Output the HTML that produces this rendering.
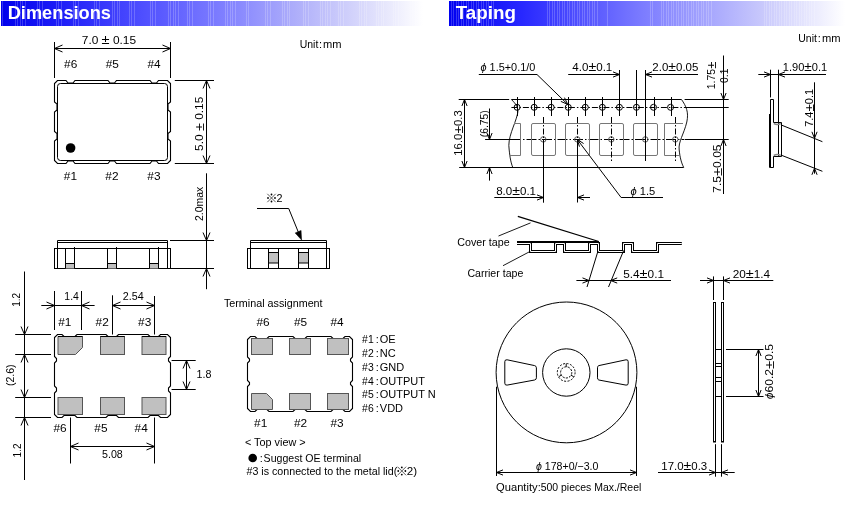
<!DOCTYPE html>
<html><head><meta charset="utf-8"><style>
html,body{margin:0;padding:0;background:#fff;width:851px;height:506px;overflow:hidden}
svg{display:block;will-change:transform}
text{font-family:"Liberation Sans",sans-serif}
</style></head><body>
<svg width="851" height="506" viewBox="0 0 851 506">
<rect width="851" height="506" fill="#fff"/>
<defs><linearGradient id="g1" gradientUnits="userSpaceOnUse" x1="1" y1="0" x2="423" y2="0"><stop offset="0" stop-color="#0000ec"/><stop offset="0.15" stop-color="#2020f8"/><stop offset="0.34" stop-color="#5050ff"/><stop offset="0.53" stop-color="#8080ff"/><stop offset="0.72" stop-color="#b4b4fa"/><stop offset="0.9" stop-color="#e4e4fc"/><stop offset="1" stop-color="#ffffff"/></linearGradient></defs>
<rect x="1" y="1" width="422" height="25" fill="url(#g1)"/>
<rect x="2" y="1" width="1" height="25" fill="#fff" fill-opacity="0.2"/>
<rect x="15" y="1" width="1" height="25" fill="#fff" fill-opacity="0.2"/>
<rect x="17" y="1" width="1" height="25" fill="#fff" fill-opacity="0.2"/>
<rect x="20" y="1" width="1" height="25" fill="#fff" fill-opacity="0.2"/>
<rect x="22" y="1" width="1" height="25" fill="#fff" fill-opacity="0.2"/>
<rect x="25" y="1" width="1" height="25" fill="#fff" fill-opacity="0.2"/>
<rect x="37" y="1" width="1" height="25" fill="#fff" fill-opacity="0.2"/>
<rect x="39" y="1" width="1" height="25" fill="#fff" fill-opacity="0.2"/>
<rect x="42" y="1" width="1" height="25" fill="#fff" fill-opacity="0.2"/>
<rect x="56" y="1" width="1" height="25" fill="#fff" fill-opacity="0.2"/>
<rect x="58" y="1" width="1" height="25" fill="#fff" fill-opacity="0.2"/>
<rect x="61" y="1" width="1" height="25" fill="#fff" fill-opacity="0.2"/>
<rect x="73" y="1" width="1" height="25" fill="#fff" fill-opacity="0.2"/>
<rect x="75" y="1" width="1" height="25" fill="#fff" fill-opacity="0.2"/>
<rect x="78" y="1" width="1" height="25" fill="#fff" fill-opacity="0.2"/>
<rect x="94" y="1" width="1" height="25" fill="#fff" fill-opacity="0.2"/>
<rect x="96" y="1" width="1" height="25" fill="#fff" fill-opacity="0.2"/>
<rect x="99" y="1" width="1" height="25" fill="#fff" fill-opacity="0.2"/>
<rect x="112" y="1" width="1" height="25" fill="#fff" fill-opacity="0.2"/>
<rect x="114" y="1" width="1" height="25" fill="#fff" fill-opacity="0.2"/>
<rect x="117" y="1" width="1" height="25" fill="#fff" fill-opacity="0.2"/>
<rect x="119" y="1" width="1" height="25" fill="#fff" fill-opacity="0.2"/>
<rect x="129" y="1" width="1" height="25" fill="#fff" fill-opacity="0.2"/>
<rect x="131" y="1" width="1" height="25" fill="#fff" fill-opacity="0.2"/>
<rect x="134" y="1" width="1" height="25" fill="#fff" fill-opacity="0.2"/>
<rect x="150" y="1" width="1" height="25" fill="#fff" fill-opacity="0.2"/>
<rect x="152" y="1" width="1" height="25" fill="#fff" fill-opacity="0.2"/>
<rect x="155" y="1" width="1" height="25" fill="#fff" fill-opacity="0.2"/>
<rect x="168" y="1" width="1" height="25" fill="#fff" fill-opacity="0.2"/>
<rect x="170" y="1" width="1" height="25" fill="#fff" fill-opacity="0.2"/>
<rect x="173" y="1" width="1" height="25" fill="#fff" fill-opacity="0.2"/>
<rect x="175" y="1" width="1" height="25" fill="#fff" fill-opacity="0.2"/>
<rect x="178" y="1" width="1" height="25" fill="#fff" fill-opacity="0.2"/>
<rect x="187" y="1" width="1" height="25" fill="#fff" fill-opacity="0.2"/>
<rect x="189" y="1" width="1" height="25" fill="#fff" fill-opacity="0.2"/>
<rect x="192" y="1" width="1" height="25" fill="#fff" fill-opacity="0.2"/>
<rect x="208" y="1" width="1" height="25" fill="#fff" fill-opacity="0.2"/>
<rect x="210" y="1" width="1" height="25" fill="#fff" fill-opacity="0.2"/>
<rect x="213" y="1" width="1" height="25" fill="#fff" fill-opacity="0.2"/>
<rect x="225" y="1" width="1" height="25" fill="#fff" fill-opacity="0.2"/>
<rect x="227" y="1" width="1" height="25" fill="#fff" fill-opacity="0.2"/>
<rect x="230" y="1" width="1" height="25" fill="#fff" fill-opacity="0.2"/>
<rect x="232" y="1" width="1" height="25" fill="#fff" fill-opacity="0.2"/>
<rect x="235" y="1" width="1" height="25" fill="#fff" fill-opacity="0.2"/>
<rect x="246" y="1" width="1" height="25" fill="#fff" fill-opacity="0.2"/>
<rect x="248" y="1" width="1" height="25" fill="#fff" fill-opacity="0.2"/>
<rect x="265" y="1" width="1" height="25" fill="#fff" fill-opacity="0.2"/>
<rect x="267" y="1" width="1" height="25" fill="#fff" fill-opacity="0.2"/>
<rect x="270" y="1" width="1" height="25" fill="#fff" fill-opacity="0.2"/>
<rect x="282" y="1" width="1" height="25" fill="#fff" fill-opacity="0.2"/>
<rect x="284" y="1" width="1" height="25" fill="#fff" fill-opacity="0.2"/>
<rect x="287" y="1" width="1" height="25" fill="#fff" fill-opacity="0.2"/>
<rect x="289" y="1" width="1" height="25" fill="#fff" fill-opacity="0.2"/>
<rect x="303" y="1" width="1" height="25" fill="#fff" fill-opacity="0.2"/>
<rect x="305" y="1" width="1" height="25" fill="#fff" fill-opacity="0.2"/>
<rect x="308" y="1" width="1" height="25" fill="#fff" fill-opacity="0.2"/>
<rect x="320" y="1" width="1" height="25" fill="#fff" fill-opacity="0.2"/>
<rect x="322" y="1" width="1" height="25" fill="#fff" fill-opacity="0.2"/>
<rect x="325" y="1" width="1" height="25" fill="#fff" fill-opacity="0.2"/>
<rect x="327" y="1" width="1" height="25" fill="#fff" fill-opacity="0.2"/>
<rect x="330" y="1" width="1" height="25" fill="#fff" fill-opacity="0.2"/>
<rect x="338" y="1" width="1" height="25" fill="#fff" fill-opacity="0.2"/>
<rect x="340" y="1" width="1" height="25" fill="#fff" fill-opacity="0.2"/>
<rect x="343" y="1" width="1" height="25" fill="#fff" fill-opacity="0.2"/>
<rect x="359" y="1" width="1" height="25" fill="#fff" fill-opacity="0.2"/>
<rect x="361" y="1" width="1" height="25" fill="#fff" fill-opacity="0.2"/>
<rect x="364" y="1" width="1" height="25" fill="#fff" fill-opacity="0.2"/>
<rect x="366" y="1" width="1" height="25" fill="#fff" fill-opacity="0.2"/>
<rect x="376" y="1" width="1" height="25" fill="#fff" fill-opacity="0.2"/>
<rect x="378" y="1" width="1" height="25" fill="#fff" fill-opacity="0.2"/>
<rect x="381" y="1" width="1" height="25" fill="#fff" fill-opacity="0.2"/>
<rect x="383" y="1" width="1" height="25" fill="#fff" fill-opacity="0.2"/>
<rect x="393" y="1" width="1" height="25" fill="#fff" fill-opacity="0.2"/>
<rect x="395" y="1" width="1" height="25" fill="#fff" fill-opacity="0.2"/>
<rect x="398" y="1" width="1" height="25" fill="#fff" fill-opacity="0.2"/>
<rect x="410" y="1" width="1" height="25" fill="#fff" fill-opacity="0.2"/>
<rect x="412" y="1" width="1" height="25" fill="#fff" fill-opacity="0.2"/>
<rect x="415" y="1" width="1" height="25" fill="#fff" fill-opacity="0.2"/>
<defs><linearGradient id="g449" gradientUnits="userSpaceOnUse" x1="449" y1="0" x2="845" y2="0"><stop offset="0" stop-color="#0000f0"/><stop offset="0.185" stop-color="#2828ff"/><stop offset="0.49" stop-color="#7c7cff"/><stop offset="0.79" stop-color="#c8c8fc"/><stop offset="1" stop-color="#ffffff"/></linearGradient></defs>
<rect x="449" y="1" width="396" height="25" fill="url(#g449)"/>
<rect x="451" y="1" width="1" height="25" fill="#fff" fill-opacity="0.2"/>
<rect x="453" y="1" width="1" height="25" fill="#fff" fill-opacity="0.2"/>
<rect x="456" y="1" width="1" height="25" fill="#fff" fill-opacity="0.2"/>
<rect x="458" y="1" width="1" height="25" fill="#fff" fill-opacity="0.2"/>
<rect x="461" y="1" width="1" height="25" fill="#fff" fill-opacity="0.2"/>
<rect x="463" y="1" width="1" height="25" fill="#fff" fill-opacity="0.2"/>
<rect x="466" y="1" width="1" height="25" fill="#fff" fill-opacity="0.2"/>
<rect x="468" y="1" width="1" height="25" fill="#fff" fill-opacity="0.2"/>
<rect x="471" y="1" width="1" height="25" fill="#fff" fill-opacity="0.2"/>
<rect x="473" y="1" width="1" height="25" fill="#fff" fill-opacity="0.2"/>
<rect x="476" y="1" width="1" height="25" fill="#fff" fill-opacity="0.2"/>
<rect x="478" y="1" width="1" height="25" fill="#fff" fill-opacity="0.2"/>
<rect x="481" y="1" width="1" height="25" fill="#fff" fill-opacity="0.2"/>
<rect x="483" y="1" width="1" height="25" fill="#fff" fill-opacity="0.2"/>
<rect x="486" y="1" width="1" height="25" fill="#fff" fill-opacity="0.2"/>
<rect x="488" y="1" width="1" height="25" fill="#fff" fill-opacity="0.2"/>
<rect x="491" y="1" width="1" height="25" fill="#fff" fill-opacity="0.2"/>
<rect x="493" y="1" width="1" height="25" fill="#fff" fill-opacity="0.2"/>
<rect x="547" y="1" width="1" height="25" fill="#fff" fill-opacity="0.2"/>
<rect x="549" y="1" width="1" height="25" fill="#fff" fill-opacity="0.2"/>
<rect x="552" y="1" width="1" height="25" fill="#fff" fill-opacity="0.2"/>
<rect x="554" y="1" width="1" height="25" fill="#fff" fill-opacity="0.2"/>
<rect x="557" y="1" width="1" height="25" fill="#fff" fill-opacity="0.2"/>
<rect x="559" y="1" width="1" height="25" fill="#fff" fill-opacity="0.2"/>
<rect x="562" y="1" width="1" height="25" fill="#fff" fill-opacity="0.2"/>
<rect x="564" y="1" width="1" height="25" fill="#fff" fill-opacity="0.2"/>
<rect x="567" y="1" width="1" height="25" fill="#fff" fill-opacity="0.2"/>
<rect x="569" y="1" width="1" height="25" fill="#fff" fill-opacity="0.2"/>
<rect x="572" y="1" width="1" height="25" fill="#fff" fill-opacity="0.2"/>
<rect x="574" y="1" width="1" height="25" fill="#fff" fill-opacity="0.2"/>
<rect x="577" y="1" width="1" height="25" fill="#fff" fill-opacity="0.2"/>
<rect x="579" y="1" width="1" height="25" fill="#fff" fill-opacity="0.2"/>
<rect x="582" y="1" width="1" height="25" fill="#fff" fill-opacity="0.2"/>
<rect x="584" y="1" width="1" height="25" fill="#fff" fill-opacity="0.2"/>
<rect x="587" y="1" width="1" height="25" fill="#fff" fill-opacity="0.2"/>
<rect x="589" y="1" width="1" height="25" fill="#fff" fill-opacity="0.2"/>
<rect x="592" y="1" width="1" height="25" fill="#fff" fill-opacity="0.2"/>
<rect x="594" y="1" width="1" height="25" fill="#fff" fill-opacity="0.2"/>
<rect x="597" y="1" width="1" height="25" fill="#fff" fill-opacity="0.2"/>
<rect x="607" y="1" width="1" height="25" fill="#fff" fill-opacity="0.2"/>
<rect x="650" y="1" width="1" height="25" fill="#fff" fill-opacity="0.2"/>
<rect x="652" y="1" width="1" height="25" fill="#fff" fill-opacity="0.2"/>
<rect x="661" y="1" width="1" height="25" fill="#fff" fill-opacity="0.2"/>
<rect x="663" y="1" width="1" height="25" fill="#fff" fill-opacity="0.2"/>
<rect x="666" y="1" width="1" height="25" fill="#fff" fill-opacity="0.2"/>
<rect x="668" y="1" width="1" height="25" fill="#fff" fill-opacity="0.2"/>
<rect x="671" y="1" width="1" height="25" fill="#fff" fill-opacity="0.2"/>
<rect x="673" y="1" width="1" height="25" fill="#fff" fill-opacity="0.2"/>
<rect x="676" y="1" width="1" height="25" fill="#fff" fill-opacity="0.2"/>
<rect x="678" y="1" width="1" height="25" fill="#fff" fill-opacity="0.2"/>
<rect x="681" y="1" width="1" height="25" fill="#fff" fill-opacity="0.2"/>
<rect x="683" y="1" width="1" height="25" fill="#fff" fill-opacity="0.2"/>
<rect x="686" y="1" width="1" height="25" fill="#fff" fill-opacity="0.2"/>
<rect x="688" y="1" width="1" height="25" fill="#fff" fill-opacity="0.2"/>
<rect x="691" y="1" width="1" height="25" fill="#fff" fill-opacity="0.2"/>
<rect x="693" y="1" width="1" height="25" fill="#fff" fill-opacity="0.2"/>
<rect x="696" y="1" width="1" height="25" fill="#fff" fill-opacity="0.2"/>
<rect x="698" y="1" width="1" height="25" fill="#fff" fill-opacity="0.2"/>
<rect x="701" y="1" width="1" height="25" fill="#fff" fill-opacity="0.2"/>
<rect x="703" y="1" width="1" height="25" fill="#fff" fill-opacity="0.2"/>
<rect x="706" y="1" width="1" height="25" fill="#fff" fill-opacity="0.2"/>
<rect x="708" y="1" width="1" height="25" fill="#fff" fill-opacity="0.2"/>
<rect x="711" y="1" width="1" height="25" fill="#fff" fill-opacity="0.2"/>
<rect x="764" y="1" width="1" height="25" fill="#fff" fill-opacity="0.2"/>
<rect x="766" y="1" width="1" height="25" fill="#fff" fill-opacity="0.2"/>
<rect x="769" y="1" width="1" height="25" fill="#fff" fill-opacity="0.2"/>
<rect x="771" y="1" width="1" height="25" fill="#fff" fill-opacity="0.2"/>
<rect x="774" y="1" width="1" height="25" fill="#fff" fill-opacity="0.2"/>
<rect x="776" y="1" width="1" height="25" fill="#fff" fill-opacity="0.2"/>
<rect x="779" y="1" width="1" height="25" fill="#fff" fill-opacity="0.2"/>
<rect x="781" y="1" width="1" height="25" fill="#fff" fill-opacity="0.2"/>
<rect x="784" y="1" width="1" height="25" fill="#fff" fill-opacity="0.2"/>
<rect x="786" y="1" width="1" height="25" fill="#fff" fill-opacity="0.2"/>
<rect x="789" y="1" width="1" height="25" fill="#fff" fill-opacity="0.2"/>
<rect x="791" y="1" width="1" height="25" fill="#fff" fill-opacity="0.2"/>
<rect x="794" y="1" width="1" height="25" fill="#fff" fill-opacity="0.2"/>
<rect x="796" y="1" width="1" height="25" fill="#fff" fill-opacity="0.2"/>
<rect x="799" y="1" width="1" height="25" fill="#fff" fill-opacity="0.2"/>
<rect x="801" y="1" width="1" height="25" fill="#fff" fill-opacity="0.2"/>
<rect x="804" y="1" width="1" height="25" fill="#fff" fill-opacity="0.2"/>
<rect x="806" y="1" width="1" height="25" fill="#fff" fill-opacity="0.2"/>
<rect x="809" y="1" width="1" height="25" fill="#fff" fill-opacity="0.2"/>
<rect x="811" y="1" width="1" height="25" fill="#fff" fill-opacity="0.2"/>
<rect x="814" y="1" width="1" height="25" fill="#fff" fill-opacity="0.2"/>
<text x="7.7" y="18.6" font-size="18" fill="#fff" textLength="103.3" lengthAdjust="spacingAndGlyphs" font-weight="bold">Dimensions</text>
<text x="455.7" y="18.8" font-size="18" fill="#fff" textLength="60.2" lengthAdjust="spacingAndGlyphs" font-weight="bold">Taping</text>
<text x="299.7" y="47.6" font-size="11" fill="#000" textLength="18.6" lengthAdjust="spacingAndGlyphs">Unit</text>
<text x="319.0" y="47.6" font-size="11" fill="#000">:</text>
<text x="323.1" y="47.6" font-size="11" fill="#000" textLength="18.5" lengthAdjust="spacingAndGlyphs">mm</text>
<text x="798.3" y="41.8" font-size="11" fill="#000" textLength="18.6" lengthAdjust="spacingAndGlyphs">Unit</text>
<text x="817.7" y="41.8" font-size="11" fill="#000">:</text>
<text x="821.9" y="41.8" font-size="11" fill="#000" textLength="18.6" lengthAdjust="spacingAndGlyphs">mm</text>
<line x1="54.5" y1="42" x2="54.5" y2="78" stroke="#000" stroke-width="1"/>
<line x1="170.5" y1="42" x2="170.5" y2="78" stroke="#000" stroke-width="1"/>
<line x1="54.5" y1="48.5" x2="170.5" y2="48.5" stroke="#000" stroke-width="1"/>
<polyline points="62.50,45.00 54.50,48.50 62.50,52.00" stroke="#000" stroke-width="1" fill="none"/>
<polyline points="162.50,52.00 170.50,48.50 162.50,45.00" stroke="#000" stroke-width="1" fill="none"/>
<text x="81.8" y="43.8" font-size="11" fill="#000" textLength="54.3" lengthAdjust="spacingAndGlyphs">7.0 <tspan font-size="13.5">±</tspan> 0.15</text>
<text x="70.7" y="68.4" font-size="11" text-anchor="middle" fill="#000" textLength="13.2" lengthAdjust="spacingAndGlyphs">#6</text>
<text x="112.3" y="68.4" font-size="11" text-anchor="middle" fill="#000" textLength="13.2" lengthAdjust="spacingAndGlyphs">#5</text>
<text x="154" y="68.4" font-size="11" text-anchor="middle" fill="#000" textLength="13.2" lengthAdjust="spacingAndGlyphs">#4</text>
<text x="70.4" y="179.6" font-size="11" text-anchor="middle" fill="#000" textLength="13.2" lengthAdjust="spacingAndGlyphs">#1</text>
<text x="111.9" y="179.6" font-size="11" text-anchor="middle" fill="#000" textLength="13.2" lengthAdjust="spacingAndGlyphs">#2</text>
<text x="153.9" y="179.6" font-size="11" text-anchor="middle" fill="#000" textLength="13.2" lengthAdjust="spacingAndGlyphs">#3</text>
<polygon points="57.50,80.50 66.00,80.50 68.00,83.00 73.00,83.00 75.00,80.50 108.00,80.50 110.00,83.00 114.50,83.00 116.50,80.50 150.00,80.50 152.00,83.00 156.50,83.00 158.50,80.50 167.50,80.50 170.50,83.50 170.50,102.00 168.00,104.00 168.00,110.00 170.50,112.00 170.50,131.50 168.00,133.50 168.00,139.00 170.50,141.00 170.50,160.50 167.50,163.50 158.50,163.50 156.50,161.00 152.00,161.00 150.00,163.50 116.50,163.50 114.50,161.00 110.00,161.00 108.00,163.50 75.00,163.50 73.00,161.00 68.00,161.00 66.00,163.50 57.50,163.50 54.50,160.50 54.50,141.00 57.00,139.00 57.00,133.50 54.50,131.50 54.50,112.00 57.00,110.00 57.00,104.00 54.50,102.00 54.50,83.50" stroke="#000" stroke-width="1.1" fill="none"/>
<rect x="57.5" y="83.5" width="110" height="77" rx="3" fill="none" stroke="#000" stroke-width="1"/>
<circle cx="70.6" cy="148" r="4.8" fill="#000"/>
<line x1="174.8" y1="80.5" x2="214" y2="80.5" stroke="#000" stroke-width="1"/>
<line x1="174.8" y1="163.5" x2="214" y2="163.5" stroke="#000" stroke-width="1"/>
<line x1="206.5" y1="80.5" x2="206.5" y2="163.5" stroke="#000" stroke-width="1"/>
<polyline points="210.00,88.50 206.50,80.50 203.00,88.50" stroke="#000" stroke-width="1" fill="none"/>
<polyline points="203.00,155.50 206.50,163.50 210.00,155.50" stroke="#000" stroke-width="1" fill="none"/>
<text x="198.7" y="123.80000000000001" font-size="11" text-anchor="middle" dominant-baseline="central" transform="rotate(-90 198.7 123.80000000000001)" fill="#000" textLength="54.2" lengthAdjust="spacingAndGlyphs">5.0 <tspan font-size="13.5">±</tspan> 0.15</text>
<line x1="206.5" y1="173.3" x2="206.5" y2="289.2" stroke="#000" stroke-width="1"/>
<polyline points="203.00,232.50 206.50,240.50 210.00,232.50" stroke="#000" stroke-width="1" fill="none"/>
<polyline points="210.00,276.50 206.50,268.50 203.00,276.50" stroke="#000" stroke-width="1" fill="none"/>
<line x1="170" y1="240.5" x2="214" y2="240.5" stroke="#000" stroke-width="1"/>
<line x1="170" y1="268.5" x2="214" y2="268.5" stroke="#000" stroke-width="1"/>
<text x="199.4" y="203.9" font-size="11" text-anchor="middle" dominant-baseline="central" transform="rotate(-90 199.4 203.9)" fill="#000" textLength="34.2" lengthAdjust="spacingAndGlyphs">2.0max</text>
<line x1="57.5" y1="240.5" x2="167.5" y2="240.5" stroke="#000" stroke-width="1"/>
<line x1="57.5" y1="242.5" x2="167.5" y2="242.5" stroke="#000" stroke-width="1"/>
<line x1="57.5" y1="240.5" x2="57.5" y2="268.5" stroke="#000" stroke-width="1"/>
<line x1="167.5" y1="240.5" x2="167.5" y2="268.5" stroke="#000" stroke-width="1"/>
<rect x="54.5" y="248.5" width="116" height="20" fill="none" stroke="#000" stroke-width="1"/>
<rect x="65.5" y="263.5" width="9.0" height="5" fill="#c0c0c0"/>
<line x1="65.5" y1="248.5" x2="65.5" y2="268.5" stroke="#000" stroke-width="1"/>
<line x1="74.5" y1="247" x2="74.5" y2="268.5" stroke="#000" stroke-width="1"/>
<line x1="65.5" y1="263.5" x2="74.5" y2="263.5" stroke="#000" stroke-width="1"/>
<rect x="107.5" y="263.5" width="9.0" height="5" fill="#c0c0c0"/>
<line x1="107.5" y1="248.5" x2="107.5" y2="268.5" stroke="#000" stroke-width="1"/>
<line x1="116.5" y1="247" x2="116.5" y2="268.5" stroke="#000" stroke-width="1"/>
<line x1="107.5" y1="263.5" x2="116.5" y2="263.5" stroke="#000" stroke-width="1"/>
<rect x="149.5" y="263.5" width="9.0" height="5" fill="#c0c0c0"/>
<line x1="149.5" y1="248.5" x2="149.5" y2="268.5" stroke="#000" stroke-width="1"/>
<line x1="158.5" y1="247" x2="158.5" y2="268.5" stroke="#000" stroke-width="1"/>
<line x1="149.5" y1="263.5" x2="158.5" y2="263.5" stroke="#000" stroke-width="1"/>
<line x1="250.5" y1="240.5" x2="326.5" y2="240.5" stroke="#000" stroke-width="1"/>
<line x1="250.5" y1="242.5" x2="326.5" y2="242.5" stroke="#000" stroke-width="1"/>
<line x1="250.5" y1="240.5" x2="250.5" y2="268.5" stroke="#000" stroke-width="1"/>
<line x1="326.5" y1="240.5" x2="326.5" y2="268.5" stroke="#000" stroke-width="1"/>
<rect x="247.5" y="248.5" width="82" height="20" fill="none" stroke="#000" stroke-width="1"/>
<rect x="268.5" y="252.5" width="10.0" height="10.5" fill="#c0c0c0"/>
<line x1="268.5" y1="248.5" x2="268.5" y2="268.5" stroke="#000" stroke-width="1"/>
<line x1="278.5" y1="248.5" x2="278.5" y2="268.5" stroke="#000" stroke-width="1"/>
<line x1="268.5" y1="252.5" x2="278.5" y2="252.5" stroke="#000" stroke-width="1"/>
<line x1="268.5" y1="263" x2="278.5" y2="263" stroke="#000" stroke-width="1"/>
<rect x="298.5" y="252.5" width="10.0" height="10.5" fill="#c0c0c0"/>
<line x1="298.5" y1="248.5" x2="298.5" y2="268.5" stroke="#000" stroke-width="1"/>
<line x1="308.5" y1="248.5" x2="308.5" y2="268.5" stroke="#000" stroke-width="1"/>
<line x1="298.5" y1="252.5" x2="308.5" y2="252.5" stroke="#000" stroke-width="1"/>
<line x1="298.5" y1="263" x2="308.5" y2="263" stroke="#000" stroke-width="1"/>
<polyline points="257.00,208.50 288.70,208.50 299.50,235.00" stroke="#000" stroke-width="1" fill="none"/>
<polygon points="295.16,232.94 301.60,240.00 301.07,230.46" stroke="#000" stroke-width="0.5" fill="#000"/>
<line x1="267.3" y1="193.8" x2="275.7" y2="202.2" stroke="#333" stroke-width="0.8"/>
<line x1="267.3" y1="202.2" x2="275.7" y2="193.8" stroke="#333" stroke-width="0.8"/>
<circle cx="271.50" cy="194.51" r="0.9" fill="#000"/>
<circle cx="271.50" cy="201.49" r="0.9" fill="#000"/>
<circle cx="268.01" cy="198.00" r="0.9" fill="#000"/>
<circle cx="274.99" cy="198.00" r="0.9" fill="#000"/>
<text x="276.5" y="201.8" font-size="11" fill="#000" textLength="6.0" lengthAdjust="spacingAndGlyphs">2</text>
<line x1="24.5" y1="271.5" x2="24.5" y2="480" stroke="#000" stroke-width="1"/>
<line x1="15.2" y1="334.5" x2="51" y2="334.5" stroke="#000" stroke-width="1"/>
<line x1="15.2" y1="354.5" x2="51" y2="354.5" stroke="#000" stroke-width="1"/>
<line x1="15.2" y1="397.5" x2="51" y2="397.5" stroke="#000" stroke-width="1"/>
<line x1="15.2" y1="417.5" x2="51" y2="417.5" stroke="#000" stroke-width="1"/>
<polyline points="21.00,326.50 24.50,334.50 28.00,326.50" stroke="#000" stroke-width="1" fill="none"/>
<polyline points="28.00,362.50 24.50,354.50 21.00,362.50" stroke="#000" stroke-width="1" fill="none"/>
<polyline points="21.00,389.50 24.50,397.50 28.00,389.50" stroke="#000" stroke-width="1" fill="none"/>
<polyline points="28.00,425.50 24.50,417.50 21.00,425.50" stroke="#000" stroke-width="1" fill="none"/>
<text x="15.7" y="299.8" font-size="11" text-anchor="middle" dominant-baseline="central" transform="rotate(-90 15.7 299.8)" fill="#000" textLength="14.0" lengthAdjust="spacingAndGlyphs">1.2</text>
<text x="9.7" y="375.25" font-size="11" text-anchor="middle" dominant-baseline="central" transform="rotate(-90 9.7 375.25)" fill="#000" textLength="21.7" lengthAdjust="spacingAndGlyphs">(2.6)</text>
<text x="16.6" y="450.5" font-size="11" text-anchor="middle" dominant-baseline="central" transform="rotate(-90 16.6 450.5)" fill="#000" textLength="14.0" lengthAdjust="spacingAndGlyphs">1.2</text>
<line x1="41.3" y1="305.5" x2="94.6" y2="305.5" stroke="#000" stroke-width="1"/>
<polyline points="46.50,309.00 54.50,305.50 46.50,302.00" stroke="#000" stroke-width="1" fill="none"/>
<polyline points="89.50,302.00 81.50,305.50 89.50,309.00" stroke="#000" stroke-width="1" fill="none"/>
<line x1="54.5" y1="291" x2="54.5" y2="330" stroke="#000" stroke-width="1"/>
<line x1="81.5" y1="291" x2="81.5" y2="330" stroke="#000" stroke-width="1"/>
<text x="71.6" y="299.8" font-size="11" text-anchor="middle" fill="#000" textLength="14.5" lengthAdjust="spacingAndGlyphs">1.4</text>
<line x1="112.5" y1="305.5" x2="154.5" y2="305.5" stroke="#000" stroke-width="1"/>
<polyline points="120.50,302.00 112.50,305.50 120.50,309.00" stroke="#000" stroke-width="1" fill="none"/>
<polyline points="146.50,309.00 154.50,305.50 146.50,302.00" stroke="#000" stroke-width="1" fill="none"/>
<line x1="112.5" y1="295.3" x2="112.5" y2="334.5" stroke="#000" stroke-width="1"/>
<line x1="154.5" y1="296" x2="154.5" y2="334.5" stroke="#000" stroke-width="1"/>
<text x="133.2" y="299.9" font-size="11" text-anchor="middle" fill="#000" textLength="20.9" lengthAdjust="spacingAndGlyphs">2.54</text>
<text x="64.8" y="325.8" font-size="11" text-anchor="middle" fill="#000" textLength="13.2" lengthAdjust="spacingAndGlyphs">#1</text>
<text x="102.2" y="325.8" font-size="11" text-anchor="middle" fill="#000" textLength="13.2" lengthAdjust="spacingAndGlyphs">#2</text>
<text x="144.7" y="325.8" font-size="11" text-anchor="middle" fill="#000" textLength="13.2" lengthAdjust="spacingAndGlyphs">#3</text>
<text x="60" y="431.7" font-size="11" text-anchor="middle" fill="#000" textLength="13.2" lengthAdjust="spacingAndGlyphs">#6</text>
<text x="100.9" y="431.7" font-size="11" text-anchor="middle" fill="#000" textLength="13.2" lengthAdjust="spacingAndGlyphs">#5</text>
<text x="141.2" y="431.7" font-size="11" text-anchor="middle" fill="#000" textLength="13.2" lengthAdjust="spacingAndGlyphs">#4</text>
<polygon points="57.50,334.50 62.00,334.50 64.00,336.50 75.00,336.50 77.00,334.50 106.00,334.50 108.00,336.50 116.50,336.50 118.50,334.50 148.00,334.50 150.00,336.50 158.50,336.50 160.50,334.50 167.50,334.50 170.50,337.50 170.50,356.50 168.50,358.50 168.50,361.00 170.50,363.00 170.50,386.00 168.50,388.00 168.50,391.00 170.50,393.00 170.50,414.50 167.50,417.50 160.50,417.50 158.50,415.50 150.00,415.50 148.00,417.50 118.50,417.50 116.50,415.50 108.00,415.50 106.00,417.50 77.00,417.50 75.00,415.50 64.00,415.50 62.00,417.50 57.50,417.50 54.50,414.50 54.50,393.00 56.50,391.00 56.50,388.00 54.50,386.00 54.50,363.00 56.50,361.00 56.50,358.50 54.50,356.50 54.50,337.50" stroke="#000" stroke-width="1.1" fill="none"/>
<polygon points="58.00,336.50 82.50,336.50 82.50,347.50 75.50,354.50 58.00,354.50" stroke="#555" stroke-width="1" fill="#c0c0c0"/>
<line x1="58" y1="336.5" x2="82.5" y2="336.5" stroke="#000" stroke-width="1"/>
<rect x="58" y="397.5" width="24.5" height="17" fill="#c0c0c0" stroke="#555" stroke-width="1"/>
<rect x="100.5" y="336.5" width="24.0" height="18" fill="#c0c0c0" stroke="#555" stroke-width="1"/>
<line x1="100.5" y1="336.5" x2="124.5" y2="336.5" stroke="#000" stroke-width="1"/>
<rect x="100.5" y="397.5" width="24.0" height="17" fill="#c0c0c0" stroke="#555" stroke-width="1"/>
<rect x="142" y="336.5" width="24" height="18" fill="#c0c0c0" stroke="#555" stroke-width="1"/>
<line x1="142" y1="336.5" x2="166" y2="336.5" stroke="#000" stroke-width="1"/>
<rect x="142" y="397.5" width="24" height="17" fill="#c0c0c0" stroke="#555" stroke-width="1"/>
<line x1="171.6" y1="360.5" x2="195.7" y2="360.5" stroke="#000" stroke-width="1"/>
<line x1="171.6" y1="389.5" x2="195.7" y2="389.5" stroke="#000" stroke-width="1"/>
<line x1="186.5" y1="360.5" x2="186.5" y2="389.5" stroke="#000" stroke-width="1"/>
<polyline points="190.00,368.50 186.50,360.50 183.00,368.50" stroke="#000" stroke-width="1" fill="none"/>
<polyline points="183.00,381.50 186.50,389.50 190.00,381.50" stroke="#000" stroke-width="1" fill="none"/>
<text x="196.5" y="377.9" font-size="11" fill="#000" textLength="14.9" lengthAdjust="spacingAndGlyphs">1.8</text>
<line x1="70.5" y1="417.5" x2="70.5" y2="463.5" stroke="#000" stroke-width="1"/>
<line x1="154.5" y1="417.5" x2="154.5" y2="463.5" stroke="#000" stroke-width="1"/>
<line x1="70.5" y1="446.5" x2="154.5" y2="446.5" stroke="#000" stroke-width="1"/>
<polyline points="78.50,443.00 70.50,446.50 78.50,450.00" stroke="#000" stroke-width="1" fill="none"/>
<polyline points="146.50,450.00 154.50,446.50 146.50,443.00" stroke="#000" stroke-width="1" fill="none"/>
<text x="112.4" y="457.7" font-size="11" text-anchor="middle" fill="#000" textLength="20.8" lengthAdjust="spacingAndGlyphs">5.08</text>
<text x="223.9" y="306.9" font-size="11" fill="#000" textLength="98.7" lengthAdjust="spacingAndGlyphs">Terminal assignment</text>
<text x="263" y="325.7" font-size="11" text-anchor="middle" fill="#000" textLength="13.2" lengthAdjust="spacingAndGlyphs">#6</text>
<text x="300.6" y="325.7" font-size="11" text-anchor="middle" fill="#000" textLength="13.2" lengthAdjust="spacingAndGlyphs">#5</text>
<text x="337.1" y="325.7" font-size="11" text-anchor="middle" fill="#000" textLength="13.2" lengthAdjust="spacingAndGlyphs">#4</text>
<text x="260.7" y="427.2" font-size="11" text-anchor="middle" fill="#000" textLength="13.2" lengthAdjust="spacingAndGlyphs">#1</text>
<text x="300.6" y="427.2" font-size="11" text-anchor="middle" fill="#000" textLength="13.2" lengthAdjust="spacingAndGlyphs">#2</text>
<text x="337.1" y="427.2" font-size="11" text-anchor="middle" fill="#000" textLength="13.2" lengthAdjust="spacingAndGlyphs">#3</text>
<polygon points="250.50,336.50 255.00,336.50 257.00,338.50 267.00,338.50 269.00,336.50 293.00,336.50 295.00,338.50 305.00,338.50 307.00,336.50 331.00,336.50 333.00,338.50 343.00,338.50 345.00,336.50 349.50,336.50 352.50,339.50 352.50,357.00 350.50,359.00 350.50,361.00 352.50,363.00 352.50,380.50 350.50,382.50 350.50,384.50 352.50,386.50 352.50,408.50 349.50,411.50 345.00,411.50 343.00,409.50 333.00,409.50 331.00,411.50 307.00,411.50 305.00,409.50 295.00,409.50 293.00,411.50 269.00,411.50 267.00,409.50 257.00,409.50 255.00,411.50 250.50,411.50 247.50,408.50 247.50,386.50 249.50,384.50 249.50,382.50 247.50,380.50 247.50,363.00 249.50,361.00 249.50,359.00 247.50,357.00 247.50,339.50" stroke="#000" stroke-width="1.1" fill="none"/>
<rect x="251.5" y="338.5" width="21.0" height="16" fill="#c0c0c0" stroke="#555" stroke-width="1"/>
<polygon points="251.50,393.50 266.50,393.50 272.50,399.50 272.50,409.50 251.50,409.50" stroke="#555" stroke-width="1" fill="#c0c0c0"/>
<rect x="289.5" y="338.5" width="21.0" height="16" fill="#c0c0c0" stroke="#555" stroke-width="1"/>
<rect x="289.5" y="393.5" width="21.0" height="16" fill="#c0c0c0" stroke="#555" stroke-width="1"/>
<rect x="327.5" y="338.5" width="21.0" height="16" fill="#c0c0c0" stroke="#555" stroke-width="1"/>
<rect x="327.5" y="393.5" width="21.0" height="16" fill="#c0c0c0" stroke="#555" stroke-width="1"/>
<text x="362.1" y="342.8" font-size="11" fill="#000" textLength="11.6" lengthAdjust="spacingAndGlyphs">#1</text>
<text x="375.8" y="342.8" font-size="11" fill="#000">:</text>
<text x="379.8" y="342.8" font-size="11" fill="#000">OE</text>
<text x="362.1" y="356.7" font-size="11" fill="#000" textLength="11.6" lengthAdjust="spacingAndGlyphs">#2</text>
<text x="375.8" y="356.7" font-size="11" fill="#000">:</text>
<text x="379.8" y="356.7" font-size="11" fill="#000">NC</text>
<text x="362.1" y="370.6" font-size="11" fill="#000" textLength="11.6" lengthAdjust="spacingAndGlyphs">#3</text>
<text x="375.8" y="370.6" font-size="11" fill="#000">:</text>
<text x="379.8" y="370.6" font-size="11" fill="#000">GND</text>
<text x="362.1" y="384.5" font-size="11" fill="#000" textLength="11.6" lengthAdjust="spacingAndGlyphs">#4</text>
<text x="375.8" y="384.5" font-size="11" fill="#000">:</text>
<text x="379.8" y="384.5" font-size="11" fill="#000">OUTPUT</text>
<text x="362.1" y="398.40000000000003" font-size="11" fill="#000" textLength="11.6" lengthAdjust="spacingAndGlyphs">#5</text>
<text x="375.8" y="398.40000000000003" font-size="11" fill="#000">:</text>
<text x="379.8" y="398.40000000000003" font-size="11" fill="#000">OUTPUT N</text>
<text x="362.1" y="412.3" font-size="11" fill="#000" textLength="11.6" lengthAdjust="spacingAndGlyphs">#6</text>
<text x="375.8" y="412.3" font-size="11" fill="#000">:</text>
<text x="379.8" y="412.3" font-size="11" fill="#000">VDD</text>
<text x="244.9" y="445.7" font-size="11" fill="#000" textLength="60.8" lengthAdjust="spacingAndGlyphs">&lt; Top view &gt;</text>
<circle cx="252.7" cy="458" r="4.3" fill="#000"/>
<text x="259.8" y="461.5" font-size="11" fill="#000">:</text>
<text x="263.6" y="461.5" font-size="11" fill="#000" textLength="97.6" lengthAdjust="spacingAndGlyphs">Suggest OE terminal</text>
<text x="246.5" y="474.6" font-size="11" fill="#000" textLength="150.7" lengthAdjust="spacingAndGlyphs">#3 is connected to the metal lid(</text>
<line x1="397.5" y1="466.7" x2="406.1" y2="475.3" stroke="#333" stroke-width="0.8"/>
<line x1="397.5" y1="475.3" x2="406.1" y2="466.7" stroke="#333" stroke-width="0.8"/>
<circle cx="401.80" cy="467.43" r="0.9" fill="#000"/>
<circle cx="401.80" cy="474.57" r="0.9" fill="#000"/>
<circle cx="398.23" cy="471.00" r="0.9" fill="#000"/>
<circle cx="405.37" cy="471.00" r="0.9" fill="#000"/>
<text x="406.7" y="474.6" font-size="11" fill="#000" textLength="10.3" lengthAdjust="spacingAndGlyphs">2)</text>
<line x1="458.7" y1="99.5" x2="509.2" y2="99.5" stroke="#000" stroke-width="1"/>
<line x1="511.4" y1="99.5" x2="681.5" y2="99.5" stroke="#000" stroke-width="1"/>
<line x1="684.6" y1="99.5" x2="728.7" y2="99.5" stroke="#000" stroke-width="1"/>
<line x1="459.2" y1="167.5" x2="683.7" y2="167.5" stroke="#000" stroke-width="1"/>
<path d="M511.4,99.5 C516,104 519,108 517.5,114 C515,125 507,138 509.2,150 C510,158 511,163 512.8,167.5" stroke="#000" stroke-width="0.9" fill="none"/>
<path d="M681.5,99.5 C686,106 689,112 686.8,122 C684,134 678,142 679.2,150 C680,158 681.5,163 683.7,167.5" stroke="#000" stroke-width="0.9" fill="none"/>
<line x1="511.4" y1="107.5" x2="728.7" y2="107.5" stroke="#000" stroke-width="1" stroke-dasharray="6,2,1.5,2"/>
<line x1="517.5" y1="97" x2="517.5" y2="116" stroke="#000" stroke-width="1"/>
<circle cx="517.10" cy="107.3" r="3" fill="none" stroke="#000" stroke-width="1"/>
<line x1="534.5" y1="97" x2="534.5" y2="116" stroke="#000" stroke-width="1"/>
<circle cx="534.15" cy="107.3" r="3" fill="none" stroke="#000" stroke-width="1"/>
<line x1="551.5" y1="97" x2="551.5" y2="116" stroke="#000" stroke-width="1"/>
<circle cx="551.20" cy="107.3" r="3" fill="none" stroke="#000" stroke-width="1"/>
<line x1="568.5" y1="97" x2="568.5" y2="116" stroke="#000" stroke-width="1"/>
<circle cx="568.25" cy="107.3" r="3" fill="none" stroke="#000" stroke-width="1"/>
<line x1="585.5" y1="97" x2="585.5" y2="116" stroke="#000" stroke-width="1"/>
<circle cx="585.30" cy="107.3" r="3" fill="none" stroke="#000" stroke-width="1"/>
<line x1="602.5" y1="97" x2="602.5" y2="116" stroke="#000" stroke-width="1"/>
<circle cx="602.35" cy="107.3" r="3" fill="none" stroke="#000" stroke-width="1"/>
<line x1="619.5" y1="97" x2="619.5" y2="116" stroke="#000" stroke-width="1"/>
<circle cx="619.40" cy="107.3" r="3" fill="none" stroke="#000" stroke-width="1"/>
<line x1="636.5" y1="97" x2="636.5" y2="116" stroke="#000" stroke-width="1"/>
<circle cx="636.45" cy="107.3" r="3" fill="none" stroke="#000" stroke-width="1"/>
<line x1="654.5" y1="97" x2="654.5" y2="116" stroke="#000" stroke-width="1"/>
<circle cx="653.50" cy="107.3" r="3" fill="none" stroke="#000" stroke-width="1"/>
<line x1="671.5" y1="97" x2="671.5" y2="116" stroke="#000" stroke-width="1"/>
<circle cx="670.55" cy="107.3" r="3" fill="none" stroke="#000" stroke-width="1"/>
<line x1="485.1" y1="139.5" x2="511" y2="139.5" stroke="#000" stroke-width="1"/>
<line x1="511" y1="139.5" x2="684" y2="139.5" stroke="#000" stroke-width="1" stroke-dasharray="10,2,1.5,2"/>
<rect x="531.5" y="123.5" width="24.0" height="32" rx="1.5" fill="none" stroke="#777" stroke-width="1"/>
<rect x="565.5" y="123.5" width="24.0" height="32" rx="1.5" fill="none" stroke="#777" stroke-width="1"/>
<rect x="599.5" y="123.5" width="24.0" height="32" rx="1.5" fill="none" stroke="#777" stroke-width="1"/>
<rect x="633.5" y="123.5" width="24.0" height="32" rx="1.5" fill="none" stroke="#777" stroke-width="1"/>
<path d="M664.5,123.5 L683,123.5 M664.5,123.5 L664.5,155.5 L680,155.5" stroke="#777" stroke-width="1" fill="none"/>
<path d="M520.5,123.5 L514,123.5 M520.5,123.5 L520.5,155.5 L509.5,155.5" stroke="#777" stroke-width="1" fill="none"/>
<circle cx="543.3" cy="139.4" r="2.7" fill="none" stroke="#555" stroke-width="1"/>
<line x1="543.5" y1="117" x2="543.5" y2="161" stroke="#000" stroke-width="1" stroke-dasharray="6,2,1.5,2"/>
<circle cx="577.3" cy="139.4" r="2.7" fill="none" stroke="#555" stroke-width="1"/>
<line x1="577.5" y1="117" x2="577.5" y2="161" stroke="#000" stroke-width="1" stroke-dasharray="6,2,1.5,2"/>
<circle cx="611.3" cy="139.4" r="2.7" fill="none" stroke="#555" stroke-width="1"/>
<line x1="611.5" y1="117" x2="611.5" y2="161" stroke="#000" stroke-width="1" stroke-dasharray="6,2,1.5,2"/>
<circle cx="645.3" cy="139.4" r="2.7" fill="none" stroke="#555" stroke-width="1"/>
<line x1="645.5" y1="117" x2="645.5" y2="161" stroke="#000" stroke-width="1" stroke-dasharray="6,2,1.5,2"/>
<circle cx="675.3" cy="139.4" r="2.7" fill="none" stroke="#555" stroke-width="1"/>
<line x1="675.5" y1="117" x2="675.5" y2="161" stroke="#000" stroke-width="1" stroke-dasharray="6,2,1.5,2"/>
<line x1="464.5" y1="99.5" x2="464.5" y2="167.5" stroke="#000" stroke-width="1"/>
<polyline points="467.10,106.00 464.50,99.50 461.90,106.00" stroke="#000" stroke-width="1" fill="none"/>
<polyline points="461.90,161.00 464.50,167.50 467.10,161.00" stroke="#000" stroke-width="1" fill="none"/>
<text x="458" y="132.95" font-size="11" text-anchor="middle" dominant-baseline="central" transform="rotate(-90 458 132.95)" fill="#000" textLength="45.5" lengthAdjust="spacingAndGlyphs">16.0<tspan font-size="13.5">±</tspan>0.3</text>
<line x1="489.5" y1="108.5" x2="489.5" y2="139.5" stroke="#000" stroke-width="1"/>
<polyline points="486.90,133.00 489.50,139.50 492.10,133.00" stroke="#000" stroke-width="1" fill="none"/>
<line x1="489.5" y1="167.5" x2="489.5" y2="180.6" stroke="#000" stroke-width="1"/>
<polyline points="492.10,174.00 489.50,167.50 486.90,174.00" stroke="#000" stroke-width="1" fill="none"/>
<text x="483.7" y="123.69999999999999" font-size="11" text-anchor="middle" dominant-baseline="central" transform="rotate(-90 483.7 123.69999999999999)" fill="#000" textLength="27.0" lengthAdjust="spacingAndGlyphs">(6.75)</text>
<line x1="543.5" y1="139.5" x2="543.5" y2="202.7" stroke="#000" stroke-width="1"/>
<line x1="577.5" y1="139.5" x2="577.5" y2="202.5" stroke="#000" stroke-width="1"/>
<line x1="494.3" y1="197.5" x2="543.5" y2="197.5" stroke="#000" stroke-width="1"/>
<polyline points="537.00,200.10 543.50,197.50 537.00,194.90" stroke="#000" stroke-width="1" fill="none"/>
<line x1="577.5" y1="197.5" x2="590" y2="197.5" stroke="#000" stroke-width="1"/>
<polyline points="584.00,194.90 577.50,197.50 584.00,200.10" stroke="#000" stroke-width="1" fill="none"/>
<text x="496.2" y="194.8" font-size="11" fill="#000" textLength="39.8" lengthAdjust="spacingAndGlyphs">8.0<tspan font-size="13.5">±</tspan>0.1</text>
<polyline points="577.30,139.50 621.10,197.50 663.00,197.50" stroke="#000" stroke-width="1" fill="none"/>
<polyline points="583.59,143.52 577.30,139.50 579.44,146.65" stroke="#000" stroke-width="1" fill="none"/>
<text x="630.5" y="194.8" font-size="11" fill="#000" textLength="24.8" lengthAdjust="spacingAndGlyphs"><tspan font-style="italic">ϕ</tspan> 1.5</text>
<polyline points="478.80,74.50 537.00,74.50 567.70,104.40" stroke="#000" stroke-width="1" fill="none"/>
<polyline points="560.87,101.38 567.70,104.40 564.50,97.65" stroke="#000" stroke-width="1" fill="none"/>
<text x="480.5" y="70.6" font-size="11" fill="#000" textLength="54.9" lengthAdjust="spacingAndGlyphs"><tspan font-style="italic">ϕ</tspan> 1.5+0.1/0</text>
<line x1="568.2" y1="74.5" x2="619.5" y2="74.5" stroke="#000" stroke-width="1"/>
<polyline points="613.00,77.10 619.50,74.50 613.00,71.90" stroke="#000" stroke-width="1" fill="none"/>
<line x1="619.5" y1="70" x2="619.5" y2="99.5" stroke="#000" stroke-width="1"/>
<line x1="636.5" y1="70" x2="636.5" y2="99.5" stroke="#000" stroke-width="1"/>
<line x1="645.5" y1="70" x2="645.5" y2="161" stroke="#000" stroke-width="1"/>
<text x="572.3" y="71" font-size="11" fill="#000" textLength="40.0" lengthAdjust="spacingAndGlyphs">4.0<tspan font-size="13.5">±</tspan>0.1</text>
<line x1="645.5" y1="74.5" x2="698" y2="74.5" stroke="#000" stroke-width="1"/>
<polyline points="652.00,71.90 645.50,74.50 652.00,77.10" stroke="#000" stroke-width="1" fill="none"/>
<text x="652.3" y="71.4" font-size="11" fill="#000" textLength="46.1" lengthAdjust="spacingAndGlyphs">2.0<tspan font-size="13.5">±</tspan>0.05</text>
<line x1="723.5" y1="55.5" x2="723.5" y2="194" stroke="#000" stroke-width="1"/>
<line x1="684.6" y1="107.5" x2="728.7" y2="107.5" stroke="#000" stroke-width="1"/>
<line x1="684.6" y1="139.5" x2="728.7" y2="139.5" stroke="#000" stroke-width="1"/>
<polyline points="720.90,93.00 723.50,99.50 726.10,93.00" stroke="#000" stroke-width="1" fill="none"/>
<polyline points="726.10,146.00 723.50,139.50 720.90,146.00" stroke="#000" stroke-width="1" fill="none"/>
<text x="711.3" y="75.5" font-size="11" text-anchor="middle" dominant-baseline="central" transform="rotate(-90 711.3 75.5)" fill="#000" textLength="27.4" lengthAdjust="spacingAndGlyphs">1.75<tspan font-size="13.5">±</tspan></text>
<text x="724" y="75.7" font-size="11" text-anchor="middle" dominant-baseline="central" transform="rotate(-90 724 75.7)" fill="#000" textLength="14.4" lengthAdjust="spacingAndGlyphs">0.1</text>
<text x="717" y="168.60000000000002" font-size="11" text-anchor="middle" dominant-baseline="central" transform="rotate(-90 717 168.60000000000002)" fill="#000" textLength="48.4" lengthAdjust="spacingAndGlyphs">7.5<tspan font-size="13.5">±</tspan>0.05</text>
<line x1="758.3" y1="74.5" x2="826" y2="74.5" stroke="#000" stroke-width="1"/>
<polyline points="764.00,77.10 770.50,74.50 764.00,71.90" stroke="#000" stroke-width="1" fill="none"/>
<polyline points="785.00,71.90 778.50,74.50 785.00,77.10" stroke="#000" stroke-width="1" fill="none"/>
<line x1="770.5" y1="69.7" x2="770.5" y2="97.4" stroke="#000" stroke-width="1"/>
<line x1="778.5" y1="69.7" x2="778.5" y2="122.7" stroke="#000" stroke-width="1"/>
<text x="782.8" y="70.7" font-size="11" fill="#000" textLength="44.4" lengthAdjust="spacingAndGlyphs">1.90<tspan font-size="13.5">±</tspan>0.1</text>
<rect x="769" y="114" width="2" height="53.7" fill="#000"/>
<path d="M770.5,167.5 L770.5,99.5 L773.5,99.5 L773.5,122.5 L781.5,122.5 L781.5,156.5 L773.5,156.5 L773.5,167.5 Z" stroke="#000" stroke-width="1" fill="none"/>
<line x1="778.5" y1="123" x2="778.5" y2="156" stroke="#000" stroke-width="1"/>
<path d="M773.8,155.5 Q777,153.5 780.8,155.5" stroke="#888" stroke-width="1.5" fill="none"/>
<path d="M773.8,123.5 Q777,125.5 780.8,123.5" stroke="#888" stroke-width="1.5" fill="none"/>
<line x1="781.3" y1="125" x2="822.4" y2="141.7" stroke="#000" stroke-width="1"/>
<line x1="781.3" y1="155.2" x2="822.4" y2="171.3" stroke="#000" stroke-width="1"/>
<line x1="814.5" y1="82.3" x2="814.5" y2="173.7" stroke="#000" stroke-width="1"/>
<polyline points="811.90,131.80 814.50,138.30 817.10,131.80" stroke="#000" stroke-width="1" fill="none"/>
<polyline points="817.10,174.80 814.50,168.30 811.90,174.80" stroke="#000" stroke-width="1" fill="none"/>
<text x="809.4" y="107.85" font-size="11" text-anchor="middle" dominant-baseline="central" transform="rotate(-90 809.4 107.85)" fill="#000" textLength="37.9" lengthAdjust="spacingAndGlyphs">7.4<tspan font-size="13.5">±</tspan>0.1</text>
<polyline points="517.80,216.30 598.80,241.50" stroke="#000" stroke-width="1.3" fill="none"/>
<path d="M517,243.5 L530.5,243.5 L530.5,251.5 L555.5,251.5 L555.5,243.5 L564.5,243.5 L564.5,251.5 L589.5,251.5 L589.5,243.5 L598.5,243.5 L598.5,251.5 L623.5,251.5 L623.5,243.5 L632.5,243.5 L632.5,251.5 L657.5,251.5 L657.5,243.5 L681.8,243.5" stroke="#000" stroke-width="3" fill="none"/>
<path d="M517,243.5 L530.5,243.5 L530.5,251.5 L555.5,251.5 L555.5,243.5 L564.5,243.5 L564.5,251.5 L589.5,251.5 L589.5,243.5 L598.5,243.5 L598.5,251.5 L623.5,251.5 L623.5,243.5 L632.5,243.5 L632.5,251.5 L657.5,251.5 L657.5,243.5 L681.8,243.5" stroke="#fff" stroke-width="1" fill="none"/>
<line x1="517" y1="242" x2="598.8" y2="242" stroke="#000" stroke-width="2"/>
<polyline points="498.50,236.00 530.50,222.90" stroke="#000" stroke-width="0.9" fill="none"/>
<polyline points="503.00,265.70 529.00,252.00" stroke="#000" stroke-width="0.9" fill="none"/>
<text x="457.3" y="245.8" font-size="11" fill="#000" textLength="52.4" lengthAdjust="spacingAndGlyphs">Cover tape</text>
<text x="467.4" y="277.2" font-size="11" fill="#000" textLength="56.0" lengthAdjust="spacingAndGlyphs">Carrier tape</text>
<line x1="598" y1="251" x2="587" y2="287" stroke="#000" stroke-width="1"/>
<line x1="623.7" y1="250.4" x2="608.5" y2="287" stroke="#000" stroke-width="1"/>
<line x1="576.4" y1="280.5" x2="671" y2="280.5" stroke="#000" stroke-width="1"/>
<polyline points="582.50,283.10 589.00,280.50 582.50,277.90" stroke="#000" stroke-width="1" fill="none"/>
<polyline points="617.20,277.90 610.70,280.50 617.20,283.10" stroke="#000" stroke-width="1" fill="none"/>
<text x="623.2" y="277.9" font-size="11" fill="#000" textLength="40.8" lengthAdjust="spacingAndGlyphs">5.4<tspan font-size="13.5">±</tspan>0.1</text>
<circle cx="566.5" cy="372.4" r="70.4" fill="none" stroke="#000" stroke-width="1"/>
<circle cx="566.3" cy="372.5" r="23.7" fill="none" stroke="#000" stroke-width="1"/>
<circle cx="566.2" cy="372.4" r="8.9" fill="none" stroke="#000" stroke-width="1" stroke-dasharray="2,1.5"/>
<circle cx="566.2" cy="372.4" r="5.6" fill="none" stroke="#000" stroke-width="1" stroke-dasharray="2.2,1.2"/>
<line x1="566.2" y1="366.79999999999995" x2="566.2" y2="363.79999999999995" stroke="#000" stroke-width="1"/>
<line x1="571.0497422611929" y1="375.2" x2="573.6478184725462" y2="376.7" stroke="#000" stroke-width="1"/>
<line x1="561.3502577388072" y1="375.2" x2="558.7521815274539" y2="376.7" stroke="#000" stroke-width="1"/>
<path d="M507.1,359.8 L534.6,365.6 Q536.4,366 536.4,367.8 L536.4,377.8 Q536.4,379.6 534.6,380 L507.1,385.1 Q504.8,385.5 504.8,383.2 L504.8,361.7 Q504.8,359.4 507.1,359.8 Z" stroke="#000" stroke-width="1" fill="none"/>
<path d="M626,359.8 L598.8,365.6 Q597.5,366 597.5,367.8 L597.5,377.8 Q597.5,379.6 598.8,380 L626,385.1 Q628.2,385.5 628.2,383.2 L628.2,361.7 Q628.2,359.4 626,359.8 Z" stroke="#000" stroke-width="1" fill="none"/>
<line x1="496.5" y1="386.7" x2="496.5" y2="476" stroke="#000" stroke-width="1"/>
<line x1="636.5" y1="386.7" x2="636.5" y2="476" stroke="#000" stroke-width="1"/>
<line x1="496.5" y1="472.5" x2="636.5" y2="472.5" stroke="#000" stroke-width="1"/>
<polyline points="503.00,469.90 496.50,472.50 503.00,475.10" stroke="#000" stroke-width="1" fill="none"/>
<polyline points="630.00,475.10 636.50,472.50 630.00,469.90" stroke="#000" stroke-width="1" fill="none"/>
<text x="536.0" y="469.6" font-size="11" fill="#000" textLength="62.4" lengthAdjust="spacingAndGlyphs"><tspan font-style="italic">ϕ</tspan> 178+0/−3.0</text>
<text x="496.1" y="491" font-size="11" fill="#000" textLength="41.5" lengthAdjust="spacingAndGlyphs">Quantity</text>
<text x="537.7" y="491" font-size="11" fill="#000">:</text>
<text x="540.7" y="491" font-size="11" fill="#000" textLength="100.6" lengthAdjust="spacingAndGlyphs">500 pieces Max./Reel</text>
<line x1="700" y1="280.5" x2="773.3" y2="280.5" stroke="#000" stroke-width="1"/>
<polyline points="707.00,283.10 713.50,280.50 707.00,277.90" stroke="#000" stroke-width="1" fill="none"/>
<polyline points="730.00,277.90 723.50,280.50 730.00,283.10" stroke="#000" stroke-width="1" fill="none"/>
<line x1="713.5" y1="276.4" x2="713.5" y2="300" stroke="#000" stroke-width="1"/>
<line x1="723.5" y1="276.4" x2="723.5" y2="300" stroke="#000" stroke-width="1"/>
<text x="732.7" y="277.8" font-size="11" fill="#000" textLength="37.5" lengthAdjust="spacingAndGlyphs">20<tspan font-size="13.5">±</tspan>1.4</text>
<rect x="713.5" y="302.5" width="2" height="139.5" fill="none" stroke="#000" stroke-width="1"/>
<rect x="721.5" y="302.5" width="2" height="139.5" fill="none" stroke="#000" stroke-width="1"/>
<line x1="715.5" y1="349.5" x2="721.5" y2="349.5" stroke="#000" stroke-width="1"/>
<line x1="715.5" y1="363.5" x2="721.5" y2="363.5" stroke="#000" stroke-width="1"/>
<line x1="715.5" y1="366.5" x2="721.5" y2="366.5" stroke="#000" stroke-width="1"/>
<line x1="715.5" y1="377.5" x2="721.5" y2="377.5" stroke="#000" stroke-width="1"/>
<line x1="715.5" y1="381.5" x2="721.5" y2="381.5" stroke="#000" stroke-width="1"/>
<line x1="715.5" y1="396.5" x2="721.5" y2="396.5" stroke="#000" stroke-width="1"/>
<line x1="726" y1="349.5" x2="763.5" y2="349.5" stroke="#000" stroke-width="1"/>
<line x1="726" y1="396.5" x2="763.5" y2="396.5" stroke="#000" stroke-width="1"/>
<line x1="758.5" y1="349.5" x2="758.5" y2="396.5" stroke="#000" stroke-width="1"/>
<polyline points="761.10,356.00 758.50,349.50 755.90,356.00" stroke="#000" stroke-width="1" fill="none"/>
<polyline points="755.90,390.00 758.50,396.50 761.10,390.00" stroke="#000" stroke-width="1" fill="none"/>
<text x="769.4" y="371.54999999999995" font-size="11" text-anchor="middle" dominant-baseline="central" transform="rotate(-90 769.4 371.54999999999995)" fill="#000" textLength="55.3" lengthAdjust="spacingAndGlyphs"><tspan font-style="italic">ϕ</tspan>60.2<tspan font-size="13.5">±</tspan>0.5</text>
<line x1="715.5" y1="444.2" x2="715.5" y2="476.7" stroke="#000" stroke-width="1"/>
<line x1="721.5" y1="444.2" x2="721.5" y2="476.7" stroke="#000" stroke-width="1"/>
<line x1="658" y1="472.5" x2="734.7" y2="472.5" stroke="#000" stroke-width="1"/>
<polyline points="709.00,475.10 715.50,472.50 709.00,469.90" stroke="#000" stroke-width="1" fill="none"/>
<polyline points="728.00,469.90 721.50,472.50 728.00,475.10" stroke="#000" stroke-width="1" fill="none"/>
<text x="661.3" y="469.5" font-size="11" fill="#000" textLength="45.9" lengthAdjust="spacingAndGlyphs">17.0<tspan font-size="13.5">±</tspan>0.3</text>
</svg></body></html>
